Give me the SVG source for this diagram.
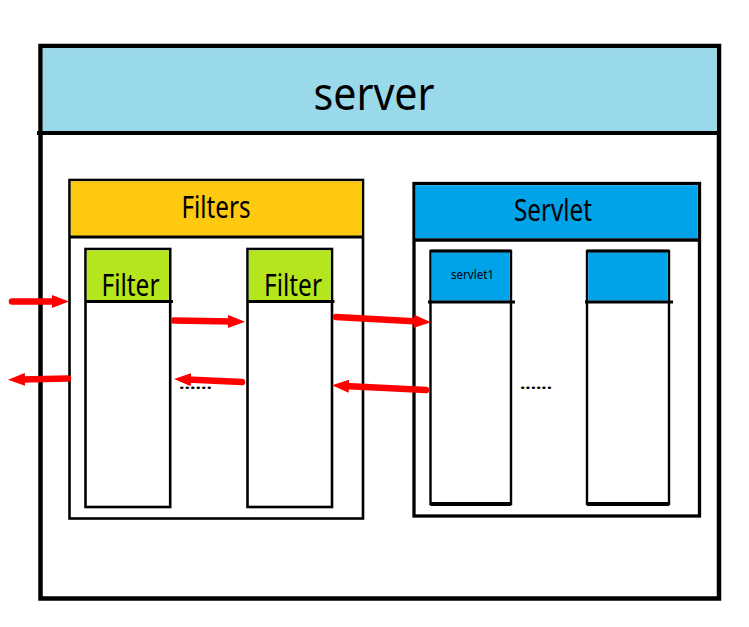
<svg xmlns="http://www.w3.org/2000/svg" width="749" height="627" viewBox="0 0 749 627">
<style>
  text { font-family: "Noto Sans", "Open Sans", sans-serif; fill: #000; }
  .dots { font-weight: bold; font-size: 15px; }
  .arrow { stroke: #ff0000; stroke-width: 6.5; stroke-linecap: round; fill: none; marker-end: url(#head); }
</style>
<defs>
  <marker id="head" markerUnits="userSpaceOnUse" markerWidth="17" markerHeight="13" refX="4" refY="6.5" orient="auto">
    <path d="M0,0 L17,6.5 L0,13 z" fill="#ff0000"/>
  </marker>
</defs>
<rect width="749" height="627" fill="#fff"/>

<g id="server">
  <rect x="40.5" y="46" width="678.5" height="552.5" fill="#fff" stroke="#000" stroke-width="4.5"/>
  <rect x="42.8" y="48.2" width="674" height="83" fill="#99d9ea"/>
  <line x1="37" y1="133" x2="721" y2="133" stroke="#000" stroke-width="4"/>
  <text x="374" y="110" font-size="46" text-anchor="middle" textLength="121" lengthAdjust="spacingAndGlyphs">server</text>
</g>

<g id="filters">
  <rect x="69.5" y="180" width="293.5" height="338.5" fill="#fff" stroke="#000" stroke-width="2.6"/>
  <rect x="70.8" y="181.3" width="290.9" height="54.5" fill="#fec90f"/>
  <line x1="69.5" y1="237" x2="363" y2="237" stroke="#000" stroke-width="3"/>
  <text x="216" y="218" font-size="30" text-anchor="middle" textLength="69" lengthAdjust="spacingAndGlyphs">Filters</text>
</g>

<g id="filter1">
  <rect x="85.5" y="249" width="84.7" height="258" fill="#fff" stroke="#000" stroke-width="2.6"/>
  <rect x="86.8" y="250.3" width="82.1" height="50" fill="#b5e61d"/>
  <line x1="85" y1="301.5" x2="173" y2="301.5" stroke="#000" stroke-width="2.8"/>
  <text x="101.5" y="296" font-size="30" textLength="58" lengthAdjust="spacingAndGlyphs">Filter</text>
</g>

<g id="filter2">
  <rect x="247.5" y="249" width="84.5" height="258" fill="#fff" stroke="#000" stroke-width="2.6"/>
  <rect x="248.8" y="250.3" width="81.9" height="50" fill="#b5e61d"/>
  <line x1="247" y1="301.5" x2="334.5" y2="301.5" stroke="#000" stroke-width="2.8"/>
  <text x="264" y="296" font-size="30" textLength="58" lengthAdjust="spacingAndGlyphs">Filter</text>
</g>

<g id="servlet">
  <rect x="414" y="183.5" width="285.5" height="332.5" fill="#fff" stroke="#000" stroke-width="3.3"/>
  <rect x="415.7" y="185.2" width="282.1" height="53" fill="#00a2e8"/>
  <line x1="414" y1="240" x2="699.5" y2="240" stroke="#000" stroke-width="3.3"/>
  <text x="553" y="221" font-size="30" text-anchor="middle" textLength="78" lengthAdjust="spacingAndGlyphs">Servlet</text>
</g>

<g id="servlet1">
  <rect x="430.5" y="251" width="80.5" height="253" fill="#fff" stroke="#000" stroke-width="2.4"/>
  <rect x="431.7" y="252.2" width="78.1" height="48.5" fill="#00a2e8"/>
  <line x1="430.5" y1="251" x2="511" y2="251" stroke="#000" stroke-width="3"/>
  <line x1="430.5" y1="504" x2="511" y2="504" stroke="#000" stroke-width="4"/>
  <line x1="428" y1="302" x2="515" y2="302" stroke="#000" stroke-width="2.8"/>
  <text x="451" y="279" font-size="13" textLength="43" lengthAdjust="spacingAndGlyphs">servlet1</text>
</g>

<g id="servlet2">
  <rect x="587" y="251" width="82" height="253" fill="#fff" stroke="#000" stroke-width="2.4"/>
  <rect x="588.2" y="252.2" width="79.6" height="48.5" fill="#00a2e8"/>
  <line x1="587" y1="251" x2="669" y2="251" stroke="#000" stroke-width="3"/>
  <line x1="587" y1="504" x2="669" y2="504" stroke="#000" stroke-width="4"/>
  <line x1="585" y1="302" x2="673" y2="302" stroke="#000" stroke-width="2.8"/>
</g>

<g id="ellipsis">
  <text class="dots" x="179" y="389" textLength="33" lengthAdjust="spacingAndGlyphs">......</text>
  <text class="dots" x="520" y="389" textLength="32" lengthAdjust="spacingAndGlyphs">......</text>
</g>

<g id="connectors">
  <line class="arrow" x1="12" y1="301.5" x2="56" y2="301.5"/>
  <line class="arrow" x1="68" y1="378.5" x2="21" y2="379.5"/>
  <line class="arrow" x1="174" y1="320.5" x2="232" y2="321.5"/>
  <line class="arrow" x1="242" y1="382" x2="187" y2="379.5"/>
  <line class="arrow" x1="336" y1="317" x2="418" y2="321.5"/>
  <line class="arrow" x1="426" y1="390" x2="345" y2="386"/>
</g>
</svg>
